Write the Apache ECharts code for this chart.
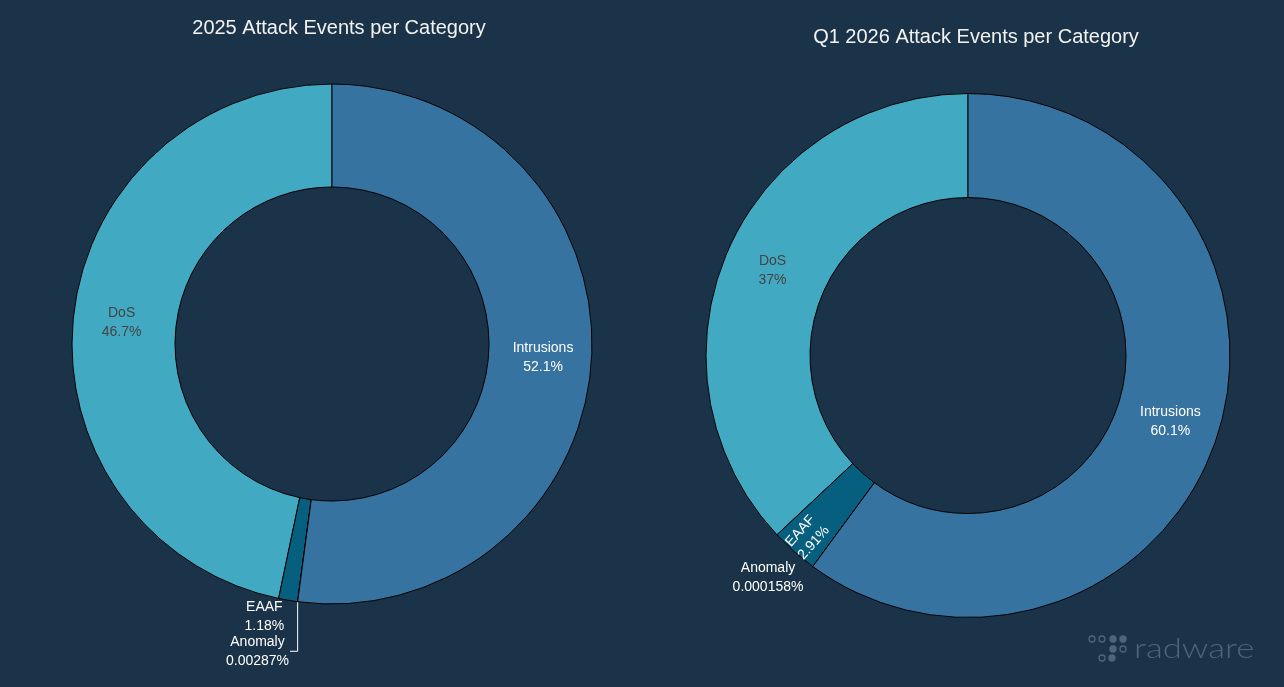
<!DOCTYPE html>
<html><head><meta charset="utf-8">
<script src="https://cdn.jsdelivr.net/npm/echarts@6/dist/echarts.min.js"></script>
<style>html,body{margin:0;padding:0;background:#1b3349}#c{width:1284px;height:687px}</style>
</head><body><div id="c"></div>
<script>
// ---------------- data ----------------
const categories = ['DoS', 'EAAF', 'Anomaly', 'Intrusions'];
const values2025 = [46.7, 1.18, 0.00287, 52.1];
const valuesQ1 = [37, 2.91, 0.000158, 60.1];
const titles = ['2025 Attack Events per Category', 'Q1 2026 Attack Events per Category'];
const logoText = 'radware';

// ---------------- style ----------------
const FONT = '"Liberation Sans", Arial, sans-serif';
const BG = '#1b3349';
const sliceColors = { DoS: '#41a9c1', EAAF: '#075f80', Anomaly: '#2a6f97', Intrusions: '#3673a0' };
const labelColors = { DoS: '#444444', EAAF: '#ffffff', Anomaly: '#ffffff', Intrusions: '#ffffff' };

const leftPlacement = {
  DoS: { position: 'inside' },
  EAAF: { position: 'outside', line: false, length: 17, length2: 0 },
  Anomaly: { position: 'outside', line: true, length: 50, length2: 1 },
  Intrusions: { position: 'inside' }
};
const rightPlacement = {
  DoS: { position: 'inside' },
  EAAF: { show: false },
  Anomaly: { position: 'outside', line: false, length: 14, length2: 0 },
  Intrusions: { position: 'inside' }
};

const fmt = p => p.name + '\n' + p.value + '%';

function buildData(values, placement) {
  return categories.map((name, i) => {
    const p = placement[name];
    return {
      name: name,
      value: values[i],
      itemStyle: { color: sliceColors[name] },
      label: { show: p.show !== false, position: p.position || 'inside', color: labelColors[name] },
      labelLine: {
        show: !!p.line, length: p.length || 0, length2: p.length2 || 0,
        lineStyle: { color: '#ffffff', width: 1 }
      }
    };
  });
}

function layoutFn(params) {
  if (params.align === 'center') return {};
  const out = { align: 'center', x: params.labelRect.x + params.labelRect.width / 2 };
  const pts = params.labelLinePoints;
  if (pts && pts.length === 3) {
    out.labelLinePoints = [pts[0], [pts[0][0], pts[2][1]], pts[2]];
  }
  return out;
}

const labelBase = { formatter: fmt, fontSize: 14, lineHeight: 19, fontFamily: FONT, distanceToLabelLine: 1 };

function pieSeries(center, radius, values, placement) {
  return {
    type: 'pie', center: center, radius: radius, startAngle: 90, clockwise: false,
    avoidLabelOverlap: false, silent: true,
    itemStyle: { borderColor: '#000000', borderWidth: 1 },
    label: labelBase,
    data: buildData(values, placement),
    labelLayout: layoutFn
  };
}

const leftCenter = [332, 344];
const rightCenter = [968, 355.5];

const s1 = pieSeries(leftCenter, [157, 260], values2025, leftPlacement);
const s2 = pieSeries(rightCenter, [158, 262], valuesQ1, rightPlacement);

// overlay ring that carries the rotated EAAF label of the right chart near the outer edge
const s3 = {
  type: 'pie', center: rightCenter, radius: [217, 262], startAngle: 90, clockwise: false,
  avoidLabelOverlap: false, silent: true, z: 3,
  itemStyle: { color: 'rgba(0,0,0,0)', borderWidth: 0 },
  labelLine: { show: false },
  label: Object.assign({}, labelBase, { show: false, lineHeight: 18 }),
  data: categories.map((name, i) => ({
    name: name, value: valuesQ1[i],
    label: { show: name === 'EAAF', position: 'inside', rotate: 'radial', color: '#ffffff' }
  }))
};

// logo dots: [x, y, filled]
const dots = [
  [1092, 639, 0], [1102, 639, 0], [1113, 639, 1], [1123, 639, 1],
  [1113, 649, 1], [1123, 649, 0],
  [1102, 658, 0], [1112, 658, 1]
];
const LOGO = '#4e6479';

const chart = echarts.init(document.getElementById('c'), null, { renderer: 'canvas' });
chart.setOption({
  backgroundColor: BG,
  animation: false,
  title: [
    { text: titles[0], left: 334, top: 13, textAlign: 'center',
      textStyle: { color: '#f2f2f2', fontSize: 20, fontWeight: 'normal', fontFamily: FONT } },
    { text: titles[1], left: 971, top: 22, textAlign: 'center',
      textStyle: { color: '#f2f2f2', fontSize: 20, fontWeight: 'normal', fontFamily: FONT } }
  ],
  series: [s1, s2, s3],
  graphic: dots.map(d => ({
    type: 'circle', shape: { cx: d[0], cy: d[1], r: d[2] ? 3.7 : 3.0 }, silent: true,
    style: d[2] ? { fill: LOGO } : { fill: 'none', stroke: LOGO, lineWidth: 1.3 }
  })).concat([{
    type: 'text', x: 1134, y: 649, scaleX: 1.24, silent: true,
    style: { text: logoText, fill: LOGO, font: '300 28px Lato, "Open Sans", sans-serif', verticalAlign: 'middle' }
  }])
});
</script>
</body></html>
